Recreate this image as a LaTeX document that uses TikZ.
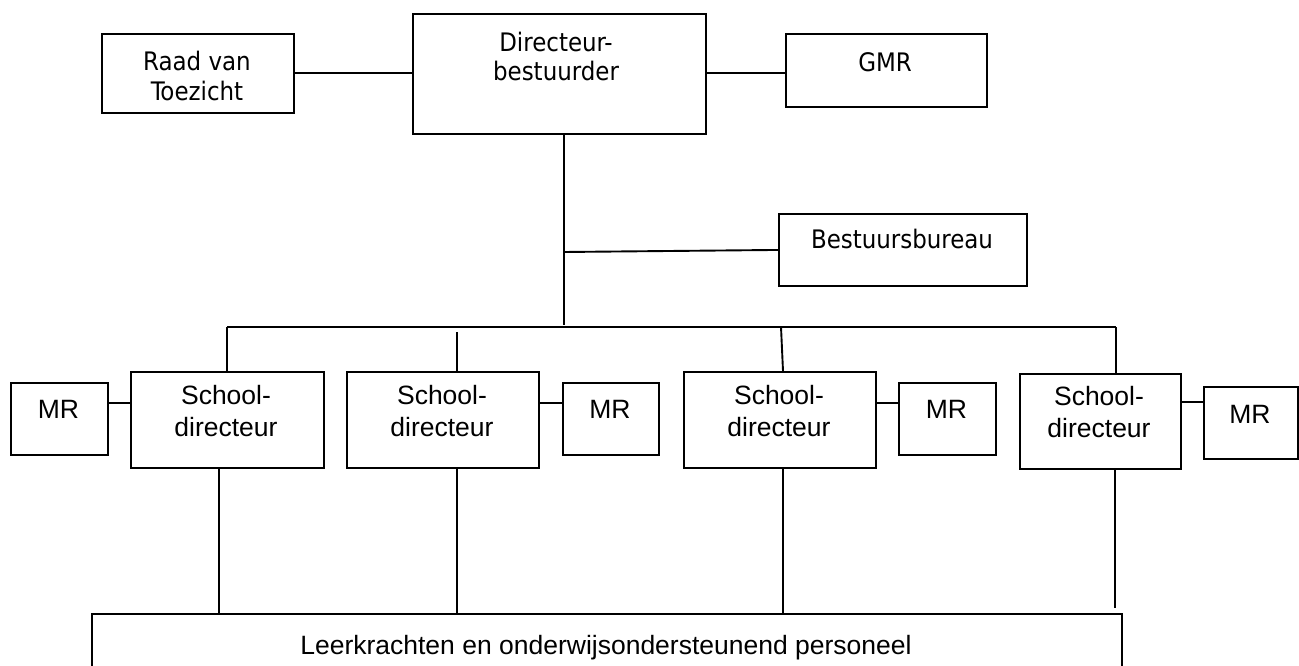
\documentclass[tikz,border=0pt]{standalone}
\usepackage{fontspec}
\setmainfont{Liberation Sans}
\newfontfamily\tahfont{DejaVu Sans Condensed}
\usetikzlibrary{calc}
\begin{document}
\begin{tikzpicture}[x=1pt,y=-1pt,
  box/.style={draw, line width=1.9pt, inner sep=0pt, anchor=north west},
  conn/.style={line width=1.9pt},
  tah/.style={font=\tahfont\fontsize{25.5}{30}\selectfont, anchor=base, inner sep=0pt},
  ar/.style={font=\fontsize{26.5}{32}\selectfont, anchor=base, inner sep=0pt}]
\useasboundingbox (0,0) rectangle (1299,666);
\clip (0,0) rectangle (1299,666);
\fill[white] (0,0) rectangle (1299,666);
% top level
\node[box, minimum width=192pt, minimum height=79pt] (raad) at (101,33) {};
\node[box, minimum width=293pt, minimum height=120pt] (dir) at (412,13) {};
\node[box, minimum width=201pt, minimum height=73pt] (gmr) at (785,33) {};
\node[box, minimum width=248pt, minimum height=72pt] (bb) at (778,213) {};
\node[tah] (raadA) at (197,71) {Raad van};
\node[tah] (raadB) at (197,101) {Toezicht};
\node[tah] (dirA) at (556,52) {Directeur-};
\node[tah] (dirB) at (556,81) {bestuurder};
\node[tah] (gmrT) at (885,72) {GMR};
\node[tah] (bbT) at (902,248) {Bestuursbureau};
% schools
\node[box, minimum width=193pt, minimum height=96pt] (s1) at (130,371) {};
\node[box, minimum width=192pt, minimum height=96pt] (s2) at (346,371) {};
\node[box, minimum width=192pt, minimum height=96pt] (s3) at (683,371) {};
\node[box, minimum width=161pt, minimum height=95pt] (s4) at (1019,373) {};
\node[ar] (s1A) at (226,404) {School-};
\node[ar] (s1B) at (226,436) {directeur};
\node[ar] (s2A) at (442,404) {School-};
\node[ar] (s2B) at (442,436) {directeur};
\node[ar] (s3A) at (779,404) {School-};
\node[ar] (s3B) at (779,436) {directeur};
\node[ar] (s4A) at (1099,405) {School-};
\node[ar] (s4B) at (1099,437) {directeur};
% MR boxes
\node[box, minimum width=97pt, minimum height=72pt] (mr1) at (10,382) {};
\node[box, minimum width=96pt, minimum height=72pt] (mr2) at (562,382) {};
\node[box, minimum width=97pt, minimum height=72pt] (mr3) at (898,382) {};
\node[box, minimum width=94pt, minimum height=72pt] (mr4) at (1203,386) {};
\node[ar] (mr1T) at (58.5,418) {MR};
\node[ar] (mr2T) at (610,418) {MR};
\node[ar] (mr3T) at (946.5,418) {MR};
\node[ar] (mr4T) at (1250,423) {MR};
% staff
\node[box, minimum width=1030pt, minimum height=80pt] (staff) at (91,613) {};
\node[ar] (staffT) at (606,654) {Leerkrachten en onderwijsondersteunend personeel};
% coordinates
\coordinate (yTop) at (0,73);
\coordinate (j1) at (564,252);
\coordinate (busC) at (564,325);
\coordinate (busL) at (227,327);
\coordinate (busR) at (1116,327);
\coordinate (d2) at (457,332);
\coordinate (d3) at (781,327);
\coordinate (yMR) at (0,403);
\coordinate (yMR4) at (0,402);
\coordinate (b1) at (219,613);
\coordinate (b2) at (457,613);
\coordinate (b3) at (783,613);
\coordinate (b4) at (1115,608);
% connectors
\draw[conn] (raad.east |- yTop) -- (dir.west |- yTop);
\draw[conn] (dir.east |- yTop) -- (gmr.west |- yTop);
\draw[conn] (dir.south -| busC) -- (busC);
\draw[conn] (j1) -- (bb.west);
\draw[conn] (busL) -- (busR);
\draw[conn] (busL) -- (busL |- s1.north);
\draw[conn] (d2) -- (d2 |- s2.north);
\draw[conn] (d3) -- ($(d3 |- s3.north)+(2,0)$);
\draw[conn] (busR) -- (busR |- s4.north);
\draw[conn] (mr1.east |- yMR) -- (s1.west |- yMR);
\draw[conn] (s2.east |- yMR) -- (mr2.west |- yMR);
\draw[conn] (s3.east |- yMR) -- (mr3.west |- yMR);
\draw[conn] (s4.east |- yMR4) -- (mr4.west |- yMR4);
\draw[conn] (s1.south -| b1) -- (b1);
\draw[conn] (s2.south -| b2) -- (b2);
\draw[conn] (s3.south -| b3) -- (b3);
\draw[conn] (s4.south -| b4) -- (b4);
\end{tikzpicture}
\end{document}
